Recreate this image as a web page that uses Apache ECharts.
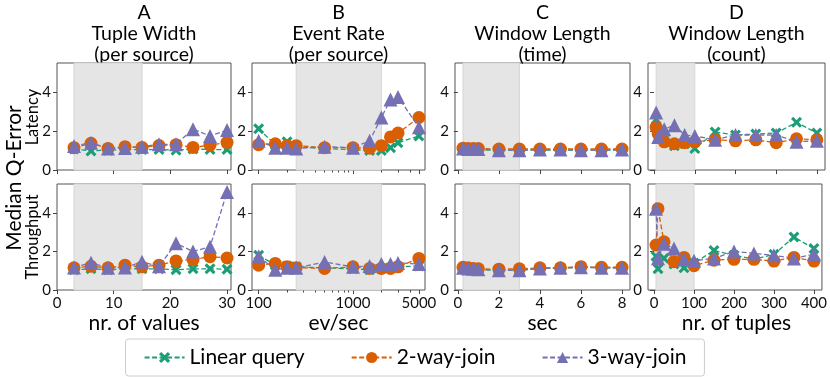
<!DOCTYPE html>
<html lang="en">
<head>
    <meta charset="UTF-8">
    <title>Median Q-Error</title>
    <script src="https://cdn.jsdelivr.net/npm/echarts@6/dist/echarts.min.js"></script>
    <style>
        body { margin: 0; padding: 0; background: #fff; }
        #chart { width: 830px; height: 377px; }
    </style>
</head>
<body>
<div id="chart"></div>
<script>
    // 数据：A Tuple Width
    const aX = [3, 6, 9, 12, 15, 18, 21, 24, 27, 30];
    const aLatLinear = [1.08, 0.98, 1.02, 1.05, 1.05, 1.05, 1.02, 1.08, 1.05, 1.05];
    const aLat2 = [1.15, 1.37, 1.11, 1.2, 1.16, 1.26, 1.3, 1.16, 1.28, 1.42];
    const aLat3 = [1.23, 1.4, 1.11, 1.13, 1.2, 1.32, 1.32, 2.1, 1.75, 2.05];
    const aThrLinear = [1.05, 1.1, 1.05, 1.1, 1.1, 1.1, 1.05, 1.1, 1.1, 1.08];
    const aThr2 = [1.15, 1.23, 1.15, 1.29, 1.2, 1.29, 1.51, 1.58, 1.73, 1.66];
    const aThr3 = [1.17, 1.41, 1.15, 1.17, 1.46, 1.23, 2.42, 2.0, 2.24, 5.08];

    // B Event Rate
    const bX = [100, 150, 200, 250, 500, 1000, 1500, 2000, 2500, 3000, 5000];
    const bLatLinear = [2.12, 1.3, 1.45, 1.2, 1.1, 1.05, 1.0, 1.0, 1.15, 1.4, 1.75];
    const bLat2 = [1.3, 1.35, 1.25, 1.25, 1.15, 1.15, 1.12, 1.25, 1.7, 1.9, 2.7];
    const bLat3 = [1.5, 1.15, 1.15, 1.1, 1.2, 1.15, 1.5, 2.7, 3.62, 3.75, 2.2];
    const bThrLinear = [1.8, 1.3, 1.25, 1.2, 1.15, 1.1, 1.05, 1.1, 1.15, 1.2, 1.25];
    const bThr2 = [1.29, 1.38, 1.2, 1.16, 1.12, 1.2, 1.12, 1.12, 1.12, 1.2, 1.64];
    const bThr3 = [1.75, 1.05, 1.15, 1.15, 1.45, 1.2, 1.25, 1.35, 1.35, 1.4, 1.35];

    // C Window Length (time)
    const cX = [0.25, 0.5, 0.75, 1, 2, 3, 4, 5, 6, 7, 8];
    const cLatLinear = [1.05, 1.05, 1.03, 1.03, 1.02, 1.02, 1.02, 1.02, 1.02, 1.02, 1.02];
    const cLat2 = [1.12, 1.1, 1.1, 1.1, 1.08, 1.08, 1.08, 1.08, 1.08, 1.08, 1.08];
    const cLat3 = [1.1, 1.08, 1.08, 1.08, 1.02, 1.02, 1.05, 1.05, 1.02, 1.02, 1.05];
    const cThrLinear = [1.12, 1.1, 1.08, 1.05, 1.02, 1.02, 1.12, 1.12, 1.2, 1.15, 1.15];
    const cThr2 = [1.18, 1.15, 1.12, 1.1, 1.08, 1.1, 1.15, 1.15, 1.2, 1.18, 1.18];
    const cThr3 = [1.15, 1.12, 1.1, 1.08, 1.02, 1.03, 1.12, 1.15, 1.18, 1.15, 1.15];

    // D Window Length (count)
    const dX = [5, 10, 25, 50, 75, 100, 150, 200, 250, 300, 350, 400];
    const dLatLinear = [2.6, 1.9, 1.6, 1.25, 1.35, 1.1, 1.95, 1.8, 1.85, 1.9, 2.45, 1.9];
    const dLat2 = [2.2, 1.85, 1.45, 1.35, 1.4, 1.45, 1.55, 1.5, 1.55, 1.4, 1.6, 1.55];
    const dLat3 = [2.95, 1.7, 2.1, 2.3, 1.8, 1.75, 1.55, 1.8, 1.8, 1.8, 1.45, 1.5];
    const dThrLinear = [1.75, 1.1, 1.65, 1.35, 1.15, 1.4, 2.05, 1.8, 1.6, 1.85, 2.75, 2.15];
    const dThr2 = [2.33, 4.22, 2.5, 1.47, 1.69, 1.26, 1.55, 1.59, 1.59, 1.5, 1.69, 1.5];
    const dThr3 = [4.22, 1.65, 2.4, 2.15, 1.6, 1.52, 1.64, 2.0, 1.9, 1.8, 1.64, 1.85];

    // 刻度与标签
    const titles = ['A\nTuple Width\n(per source)', 'B\nEvent Rate\n(per source)', 'C\nWindow Length\n(time)', 'D\nWindow Length\n(count)'];
    const xNames = ['nr. of values', 'ev/sec', 'sec', 'nr. of tuples'];
    const xTicks = [[0, 10, 20, 30], [100, 1000, 5000], [0, 2, 4, 6, 8], [0, 100, 200, 300, 400]];
    const bMinorTicks = [200, 300, 400, 500, 600, 700, 800, 900, 2000, 3000, 4000];
    const yTicks = [0, 2, 4];
    const spans = [[3, 15], [250, 2000], [0.25, 3], [5, 100]];
    const seriesNames = ['Linear query', '2-way-join', '3-way-join'];

    const FONT = 'Lato';
    const colors = ['#1b9e77', '#d95f02', '#7570b3'];
    const symbols = ['path://M2,0 L5,3 L8,0 L10,2 L7,5 L10,8 L8,10 L5,7 L2,10 L0,8 L3,5 L0,2 Z', 'circle', 'triangle'];
    const symbolSizes = [11, 13, 14];

    const lefts = [57, 252, 455, 648];
    const widths = [174, 173, 175, 177];
    const tops = [63, 184];
    const heights = [107, 106];
    const xRanges = [[0, 30.7], [85, 5800], [-0.14, 8.39], [-15, 420]];

    const xs = [aX, bX, cX, dX];
    const values = [
        [[aLatLinear, aLat2, aLat3], [aThrLinear, aThr2, aThr3]],
        [[bLatLinear, bLat2, bLat3], [bThrLinear, bThr2, bThr3]],
        [[cLatLinear, cLat2, cLat3], [cThrLinear, cThr2, cThr3]],
        [[dLatLinear, dLat2, dLat3], [dThrLinear, dThr2, dThr3]]
    ];

    const grid = [], xAxis = [], yAxis = [], series = [];
    for (let row = 0; row < 2; row++) {
        for (let col = 0; col < 4; col++) {
            const gi = grid.length;
            grid.push({
                left: lefts[col], top: tops[row], width: widths[col], height: heights[row],
                show: true, borderColor: '#555', borderWidth: 1, backgroundColor: '#fff'
            });
            xAxis.push({
                type: col === 1 ? 'log' : 'value',
                gridIndex: gi, position: 'bottom',
                min: xRanges[col][0], max: xRanges[col][1],
                axisLine: { show: false },
                splitLine: { show: false },
                axisTick: { show: true, length: 4, lineStyle: { color: '#444' }, customValues: xTicks[col] },
                axisLabel: {
                    show: row === 1, customValues: xTicks[col], margin: 6,
                    formatter: v => String(v),
                    fontFamily: FONT, fontSize: 15, color: '#111'
                }
            });
            yAxis.push({
                type: 'value', gridIndex: gi, min: 0, max: 5.5,
                axisLine: { show: false },
                splitLine: { show: false },
                axisTick: { show: true, length: 4, lineStyle: { color: '#444' }, customValues: yTicks },
                axisLabel: { customValues: yTicks, margin: 6, fontFamily: FONT, fontSize: 15, color: '#111' }
            });
            // 灰色区域
            series.push({
                type: 'line', xAxisIndex: gi, yAxisIndex: gi, data: [], z: 1, silent: true,
                markArea: {
                    silent: true,
                    itemStyle: { color: '#e5e5e5', borderColor: '#d6d6d6', borderWidth: 1 },
                    data: [[{ xAxis: spans[col][0] }, { xAxis: spans[col][1] }]]
                }
            });
            for (let s = 0; s < 3; s++) {
                const ys = values[col][row][s];
                series.push({
                    name: seriesNames[s],
                    type: 'line',
                    xAxisIndex: gi, yAxisIndex: gi,
                    z: 2 + s,
                    data: xs[col].map((x, i) => [x, ys[i]]),
                    symbol: symbols[s],
                    symbolSize: symbolSizes[s],
                    showAllSymbol: true,
                    itemStyle: { color: colors[s] },
                    lineStyle: { color: colors[s], width: 1.3, type: [5, 2.5] },
                    emphasis: { disabled: true },
                    animation: false
                });
            }
        }
    }

    // B 面板的次刻度
    [1, 5].forEach(gi => {
        xAxis.push({
            type: 'log', gridIndex: gi, position: 'bottom', min: xRanges[1][0], max: xRanges[1][1],
            axisLine: { show: false }, splitLine: { show: false },
            axisTick: { show: true, length: 2.5, lineStyle: { color: '#444' }, customValues: bMinorTicks },
            axisLabel: { show: false }
        });
    });

    const graphic = [];
    titles.forEach((t, i) => {
        graphic.push({
            type: 'text', x: lefts[i] + widths[i] / 2, y: 2,
            style: { text: t, align: 'center', verticalAlign: 'top', fontFamily: FONT, fontSize: 19.5, lineHeight: 21, fill: '#000' }
        });
        graphic.push({
            type: 'text', x: lefts[i] + widths[i] / 2, y: 323,
            style: { text: xNames[i], align: 'center', verticalAlign: 'middle', fontFamily: FONT, fontSize: 21, fill: '#000' }
        });
    });
    graphic.push({
        type: 'text', x: 14, y: 178, rotation: Math.PI / 2,
        style: { text: 'Median Q-Error', align: 'center', verticalAlign: 'middle', fontFamily: FONT, fontSize: 21, fill: '#000' }
    });
    graphic.push({
        type: 'text', x: 32.5, y: 117, rotation: Math.PI / 2,
        style: { text: 'Latency', align: 'center', verticalAlign: 'middle', fontFamily: FONT, fontSize: 16.5, fill: '#000' }
    });
    graphic.push({
        type: 'text', x: 32.5, y: 237, rotation: Math.PI / 2,
        style: { text: 'Throughput', align: 'center', verticalAlign: 'middle', fontFamily: FONT, fontSize: 16.5, fill: '#000' }
    });

    const chart = echarts.init(document.getElementById('chart'));
    chart.setOption({
        animation: false,
        backgroundColor: '#fff',
        grid: grid,
        xAxis: xAxis,
        yAxis: yAxis,
        series: series,
        graphic: graphic,
        legend: {
            data: seriesNames,
            left: 'center', top: 339,
            padding: [8, 18],
            itemWidth: 40, itemHeight: 14, itemGap: 46,
            borderColor: '#ccc', borderWidth: 1, borderRadius: 3,
            textStyle: { fontFamily: FONT, fontSize: 21, color: '#000' }
        }
    });
</script>
</body>
</html>
